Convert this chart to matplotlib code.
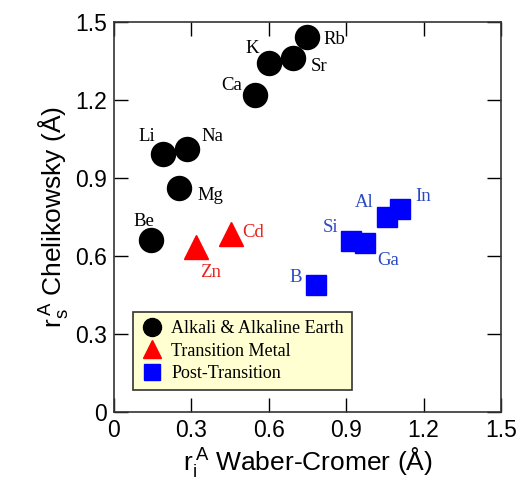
import matplotlib
matplotlib.use('Agg')
import matplotlib.pyplot as plt

plt.rcParams['font.family'] = 'Liberation Sans'
plt.rcParams['mathtext.default'] = 'regular'

# Waber-Cromer r_i (x) and Chelikowsky r_s (y), in Angstrom
alk_names = ['Li', 'Na', 'K', 'Rb', 'Be', 'Mg', 'Ca', 'Sr']
alk_x = [0.191, 0.284, 0.602, 0.747, 0.142, 0.252, 0.547, 0.693]
alk_y = [0.991, 1.010, 1.341, 1.441, 0.662, 0.860, 1.219, 1.360]

tm_names = ['Zn', 'Cd']
tm_x = [0.318, 0.454]
tm_y = [0.633, 0.683]

pt_names = ['B', 'Al', 'Ga', 'In', 'Si']
pt_x = [0.781, 1.060, 0.974, 1.108, 0.918]
pt_y = [0.488, 0.751, 0.649, 0.781, 0.659]

# label anchor (x, y, ha) for each element
lab = {
    'Rb': (0.812, 1.4165, 'left'), 'Sr': (0.763, 1.3115, 'left'),
    'K': (0.560, 1.380, 'right'), 'Ca': (0.495, 1.238, 'right'),
    'Li': (0.159, 1.042, 'right'), 'Na': (0.340, 1.042, 'left'),
    'Mg': (0.323, 0.815, 'left'), 'Be': (0.075, 0.715, 'left'),
    'Cd': (0.499, 0.672, 'left'), 'Zn': (0.334, 0.520, 'left'),
    'Si': (0.870, 0.693, 'right'), 'Ga': (1.019, 0.565, 'left'),
    'B': (0.728, 0.501, 'right'), 'Al': (1.006, 0.790, 'right'),
    'In': (1.168, 0.812, 'left'),
}

fig = plt.figure(figsize=(5.28, 4.94), dpi=100)
ax = fig.add_axes([0.2159, 0.166, 0.733, 0.7895])

ax.plot(alk_x, alk_y, 'o', color='black', ms=17.3, ls='none', label='Alkali & Alkaline Earth')
ax.plot(tm_x, tm_y, '^', color='#ff0000', ms=17.5, ls='none', label='Transition Metal')
ax.plot(pt_x, pt_y, 's', color='#0000ff', ms=15, ls='none', label='Post-Transition')

serif = 'Liberation Serif'
for names, col in [(alk_names, 'black'), (tm_names, '#e8231c'), (pt_names, '#2a48c0')]:
    for n in names:
        x, y, ha = lab[n]
        ax.text(x, y, n, ha=ha, va='baseline', color=col, fontsize=13.5, family=serif)

ax.set_xlim(0, 1.5)
ax.set_ylim(0, 1.5)
ticks = [0, 0.3, 0.6, 0.9, 1.2, 1.5]
ticklabels = ['0', '0.3', '0.6', '0.9', '1.2', '1.5']
ax.set_xticks(ticks)
ax.set_xticklabels(ticklabels)
ax.set_yticks(ticks)
ax.set_yticklabels(ticklabels)
ax.tick_params(direction='in', length=10, width=1, labelsize=16.5,
               top=True, right=True, pad=5)
for s in ax.spines.values():
    s.set_linewidth(1.2)
    s.set_color('#333333')

ax.set_xlabel(r'$r_i^{\,A}$ Waber-Cromer (Å)', fontsize=19, labelpad=2)
ax.set_ylabel(r'$r_s^{\,A}$ Chelikowsky (Å)', fontsize=19, labelpad=4)

leg = ax.legend(loc='lower left', bbox_to_anchor=(0.048, 0.056), borderaxespad=0,
                frameon=True, fancybox=False, prop={'family': serif, 'size': 13},
                markerscale=0.75, handletextpad=0.5, borderpad=0.45,
                labelspacing=0.3, handlelength=1.2)
leg.get_frame().set_facecolor('#ffffd2')
leg.get_frame().set_edgecolor('#333333')
leg.get_frame().set_linewidth(1.2)
leg.get_frame().set_alpha(1)

fig.savefig('out.png', dpi=100)
